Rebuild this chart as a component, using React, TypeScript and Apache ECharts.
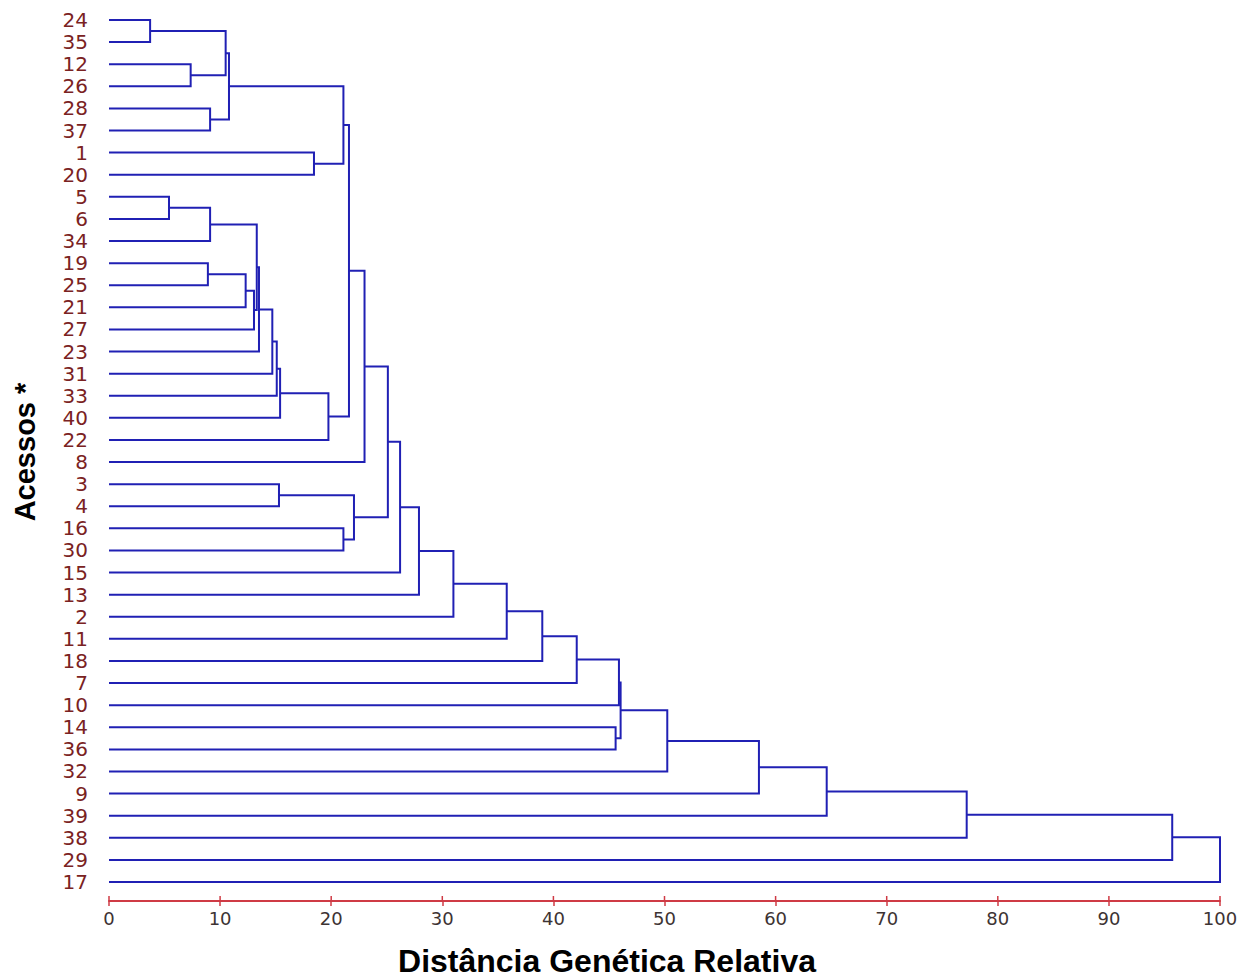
import React, { useEffect, useRef } from "react";
import * as echarts from "echarts";

// Leaf order, top to bottom
const leaves = [
  "24", "35", "12", "26", "28", "37", "1", "20", "5", "6", "34", "19", "25", "21",
  "27", "23", "31", "33", "40", "22", "8", "3", "4", "16", "30", "15", "13", "2",
  "11", "18", "7", "10", "14", "36", "32", "9", "39", "38", "29", "17",
];

// Merges: [child A, child B, distance]; "nK" refers to the K-th merge
const merges: [string, string, number][] = [
  ["24", "35", 3.7],   // n0
  ["12", "26", 7.35],  // n1
  ["28", "37", 9.1],   // n2
  ["n0", "n1", 10.5],  // n3
  ["n3", "n2", 10.8],  // n4
  ["1", "20", 18.45],  // n5
  ["n4", "n5", 21.1],  // n6
  ["5", "6", 5.4],     // n7
  ["n7", "34", 9.1],   // n8
  ["19", "25", 8.9],   // n9
  ["n9", "21", 12.3],  // n10
  ["n10", "27", 13.05],// n11
  ["n8", "n11", 13.3], // n12
  ["n12", "23", 13.5], // n13
  ["n13", "31", 14.7], // n14
  ["n14", "33", 15.1], // n15
  ["n15", "40", 15.4], // n16
  ["n16", "22", 19.75],// n17
  ["n6", "n17", 21.6], // n18
  ["n18", "8", 23.0],  // n19
  ["3", "4", 15.3],    // n20
  ["16", "30", 21.1],  // n21
  ["n20", "n21", 22.05],// n22
  ["n19", "n22", 25.1],// n23
  ["n23", "15", 26.2], // n24
  ["n24", "13", 27.9], // n25
  ["n25", "2", 31.0],  // n26
  ["n26", "11", 35.8], // n27
  ["n27", "18", 39.0], // n28
  ["n28", "7", 42.1],  // n29
  ["n29", "10", 45.9], // n30
  ["14", "36", 45.6],  // n31
  ["n30", "n31", 46.05],// n32
  ["n32", "32", 50.25],// n33
  ["n33", "9", 58.5],  // n34
  ["n34", "39", 64.6], // n35
  ["n35", "38", 77.2], // n36
  ["n36", "29", 95.7], // n37
  ["n37", "17", 100],  // n38
];

const xTicks = [0, 10, 20, 30, 40, 50, 60, 70, 80, 90, 100];
const xTitle = "Distância Genética Relativa";
const yTitle = "Acessos *";

function buildSegments() {
  const pos: Record<string, { x: number; y: number }> = {};
  leaves.forEach((l, i) => (pos[l] = { x: 0, y: i }));
  const segs: number[][] = [];
  merges.forEach(([a, b, h], k) => {
    const pa = pos[a];
    const pb = pos[b];
    segs.push([pa.x, pa.y, h, pb.y, pb.x]);
    pos["n" + k] = { x: h, y: (pa.y + pb.y) / 2 };
  });
  return segs;
}

export default function App() {
  const ref = useRef<HTMLDivElement>(null);
  useEffect(() => {
    document.body.style.margin = "0";
    const chart = echarts.init(ref.current!, null, { renderer: "svg" });
    const segs = buildSegments();
    const lineColor = "#2020b4";
    const axisRed = "#cf3b45";
    chart.setOption({
      animation: false,
      backgroundColor: "#ffffff",
      grid: { left: 109, right: 34, top: 20, bottom: 97 },
      xAxis: [
        {
          type: "value",
          min: xTicks[0],
          max: xTicks[xTicks.length - 1],
          interval: 10,
          position: "bottom",
          offset: 19,
          axisLine: { show: true, onZero: false, lineStyle: { color: axisRed, width: 2 } },
          axisTick: { show: true, length: 5, lineStyle: { color: axisRed, width: 1.5 } },
          axisLabel: {
            margin: 8,
            fontSize: 18,
            fontFamily: "DejaVu Sans",
            color: "#3d3333",
          },
          splitLine: { show: false },
        },
      ],
      yAxis: {
        type: "value",
        min: 0,
        max: leaves.length - 1,
        interval: 1,
        inverse: true,
        axisLine: { show: false },
        axisTick: { show: false },
        splitLine: { show: false },
        axisLabel: {
          margin: 21,
          fontSize: 20,
          fontFamily: "DejaVu Sans",
          color: "#7a2222",
          formatter: (v: number) => leaves[Math.round(v)] ?? "",
        },
      },
      graphic: [
        {
          type: "text",
          x: 607,
          y: 961,
          style: {
            text: xTitle,
            font: "bold 32px 'Liberation Sans', Arial, sans-serif",
            fill: "#000000",
            textAlign: "center",
            textVerticalAlign: "middle",
          },
        },
        {
          type: "text",
          x: 25,
          y: 452,
          rotation: Math.PI / 2,
          style: {
            text: yTitle,
            font: "bold 29px 'Liberation Sans', Arial, sans-serif",
            fill: "#000000",
            textAlign: "center",
            textVerticalAlign: "middle",
          },
        },
      ],
      series: [
        {
          type: "custom",
          xAxisIndex: 0,
          yAxisIndex: 0,
          encode: { x: [0, 2, 4], y: [1, 3] },
          data: segs,
          renderItem: (_params: any, api: any) => {
            const p1 = api.coord([api.value(0), api.value(1)]);
            const p2 = api.coord([api.value(2), api.value(1)]);
            const p3 = api.coord([api.value(2), api.value(3)]);
            const p4 = api.coord([api.value(4), api.value(3)]);
            return {
              type: "polyline",
              shape: { points: [p1, p2, p3, p4] },
              style: { stroke: lineColor, lineWidth: 2, fill: null },
            };
          },
        },
        {
          // inward half of the crossing tick marks, drawn at the same axis ticks
          type: "custom",
          xAxisIndex: 0,
          yAxisIndex: 0,
          encode: { x: 0 },
          data: xTicks.map((t) => [t]),
          silent: true,
          renderItem: (params: any, api: any) => {
            const p = api.coord([api.value(0), leaves.length - 1]);
            const y = p[1] + 19;
            return {
              type: "line",
              shape: { x1: p[0], y1: y - 5, x2: p[0], y2: y },
              style: { stroke: axisRed, lineWidth: 1.5 },
            };
          },
        },
      ],
    });
    return () => chart.dispose();
  }, []);
  return (
    <div
      ref={ref}
      style={{ position: "fixed", left: 0, top: 0, width: 1254, height: 979 }}
    />
  );
}
